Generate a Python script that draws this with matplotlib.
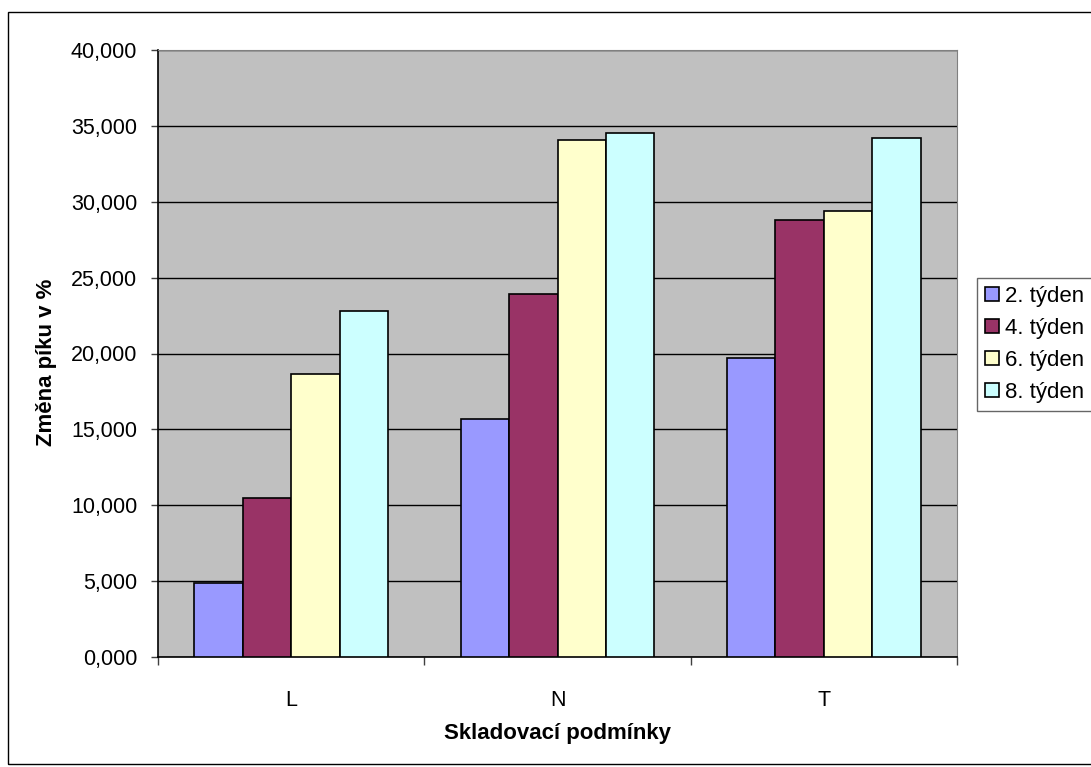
import matplotlib.pyplot as plt
import numpy as np
from matplotlib.patches import Rectangle

plt.rcParams['font.family'] = ['Liberation Sans', 'DejaVu Sans']

podminky = ['L', 'N', 'T']
tydny = ['2. týden', '4. týden', '6. týden', '8. týden']
tyden2 = [4.86, 15.67, 19.73]
tyden4 = [10.45, 23.95, 28.79]
tyden6 = [18.67, 34.07, 29.41]
tyden8 = [22.77, 34.55, 34.20]
barvy = ['#9999FF', '#993366', '#FFFFCC', '#CCFFFF']

W, H = 1091, 767
fig = plt.figure(figsize=(W / 100, H / 100), dpi=100)
ax = fig.add_axes([158 / W, 1 - 657 / H, 799 / W, 607 / H])
ax.set_facecolor('#C0C0C0')

x = np.arange(len(podminky))
sirka = 1 / 5.5
rady = [tyden2, tyden4, tyden6, tyden8]
for i, (hodnoty, barva, nazev) in enumerate(zip(rady, barvy, tydny)):
    ax.bar(x + (i - 1.5) * sirka, hodnoty, sirka, color=barva,
           edgecolor='black', linewidth=1.2, label=nazev, zorder=3)

ax.set_xlim(-0.5, 2.5)
ax.set_ylim(0, 40)
yt = np.arange(0, 41, 5)
ax.set_yticks(yt)
ax.set_yticklabels([f'{v:.3f}'.replace('.', ',') for v in yt], fontsize=15.5)
ax.yaxis.grid(True, color='black', linewidth=1, zorder=1)
ax.tick_params(axis='y', length=5, width=1, pad=10, color='#404040')

ax.set_xticks(x)
ax.set_xticklabels(podminky, fontsize=15.5)
ax.set_xticks([-0.5, 0.5, 1.5, 2.5], minor=True)
ax.tick_params(axis='x', which='major', length=0, pad=24)
ax.tick_params(axis='x', which='minor', length=6, width=1, color='#404040')

for s in ['top', 'right']:
    ax.spines[s].set_color('#808080')
for s in ['left', 'bottom']:
    ax.spines[s].set_color('black')
    ax.spines[s].set_linewidth(1.2)

fig.text(557 / W, 1 - 733 / H, 'Skladovací podmínky', ha='center', va='center',
         fontsize=16, fontweight='bold')
fig.text(47 / W, 1 - 362 / H, 'Změna píku v %', ha='center', va='center',
         rotation=90, fontsize=16, fontweight='bold')

leg = ax.legend(loc='upper left', bbox_to_anchor=(977 / W, 1 - 278 / H),
                bbox_transform=fig.transFigure, fontsize=16, frameon=True,
                fancybox=False, shadow=False, borderpad=0.35, labelspacing=0.5,
                handlelength=0.62, handleheight=0.58, handletextpad=0.3,
                borderaxespad=0)
leg.get_frame().set_edgecolor('#404040')
leg.get_frame().set_linewidth(1)
for h in leg.legend_handles:
    h.set_linewidth(1.2)

# ramecek kolem celeho grafu
fig.patches.append(Rectangle((8 / W, 1 - 764 / H), 1.1, 752 / H,
                             transform=fig.transFigure, fill=False,
                             edgecolor='black', linewidth=1))

fig.savefig('out.png', dpi=100)
